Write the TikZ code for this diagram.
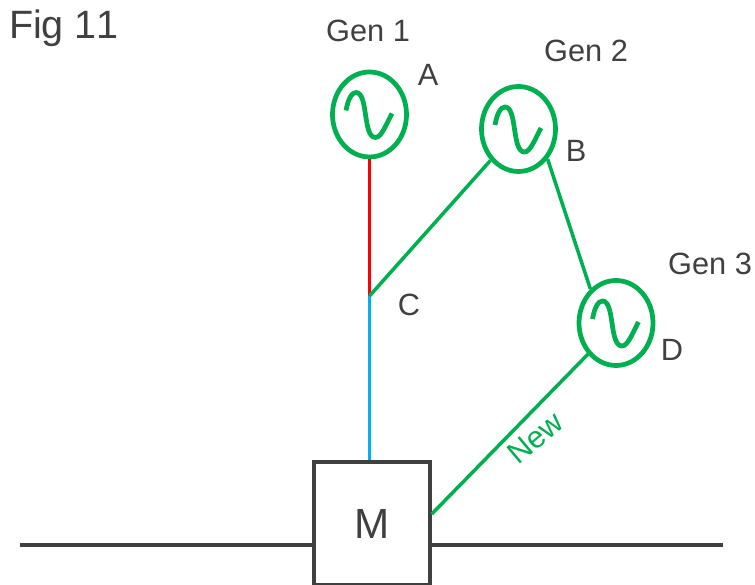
\documentclass[tikz,border=0pt]{standalone}
\usepackage{fontspec}
\setmainfont[Kerning=Off]{Liberation Sans}
\usetikzlibrary{shapes.geometric}
\definecolor{txtgray}{HTML}{404040}
\definecolor{gengreen}{HTML}{00B050}
\definecolor{feedblue}{HTML}{00B0F0}
\tikzset{
	gen/.style={draw=gengreen, line width=2.7pt, ellipse, inner sep=0pt, minimum width=1.48cm, minimum height=1.7cm},
	wave/.style={draw=gengreen, line width=2.7pt},
	feeder/.style={draw=gengreen, line width=2pt},
	lbl/.style={text=txtgray, font=\fontsize{17.5}{20}\selectfont, inner sep=0pt},
	busline/.style={draw=txtgray, line width=2pt}
}
\begin{document}
\begin{tikzpicture}[]
	\useasboundingbox (0,0) rectangle (15.1,11.7);
	\node [gen] (A) at (7.39,9.41) {};
	\node [gen] (B) at (10.37,9.12) {};
	\node [gen] (D) at (12.32,5.24) {};
	\coordinate (C) at (7.39,5.78);
	\node [draw=txtgray, line width=2pt, inner sep=0pt, minimum width=2.32cm, minimum height=2.46cm, text=txtgray, font=\fontsize{24}{28}\selectfont] (M) at (7.44,1.23) {M};
	\coordinate (busL) at (0.4,0.8);
	\coordinate (busR) at (14.46,0.8);
	% sine inside each generator
	\foreach \g in {A,B,D}
		\draw [wave, shift={(\g.center)}] (-.47,.08) .. controls (-.43,.30) and (-.36,.44) .. (-.27,.44) .. controls (-.02,.44) and (-.14,-.46) .. (.12,-.46) .. controls (.24,-.46) and (.34,-.18) .. (.45,.02);
	\draw [red, line width=2.2pt] (A.south) -- (C);
	\draw [feedblue, line width=2.2pt] (C) -- (C |- M.north);
	\draw [feeder] (B) -- (C);
	\draw [feeder] (B.-46) -- (D.127);
	\draw [feeder] (D.228) -- (M.9);
	\draw [busline] (busL) -- (busL -| M.west);
	\draw [busline] (M.east |- busL) -- (busR);
	\node [lbl, font=\fontsize{22.5}{26}\selectfont] (fig) at (1.28,11.14) {Fig 11};
	\node [lbl] (gen1) at (7.36,11.08) {Gen 1};
	\node [lbl] (gen2) at (11.72,10.68) {Gen 2};
	\node [lbl] (gen3) at (14.2,6.42) {Gen 3};
	\node [lbl] (la) at (8.56,10.2) {A};
	\node [lbl] (lb) at (11.52,8.68) {B};
	\node [lbl] (lc) at (8.18,5.6) {C};
	\node [lbl] (ld) at (13.44,4.7) {D};
	\node [lbl, text=gengreen, rotate=40] (new) at (10.7,2.94) {New};
\end{tikzpicture}
\end{document}
